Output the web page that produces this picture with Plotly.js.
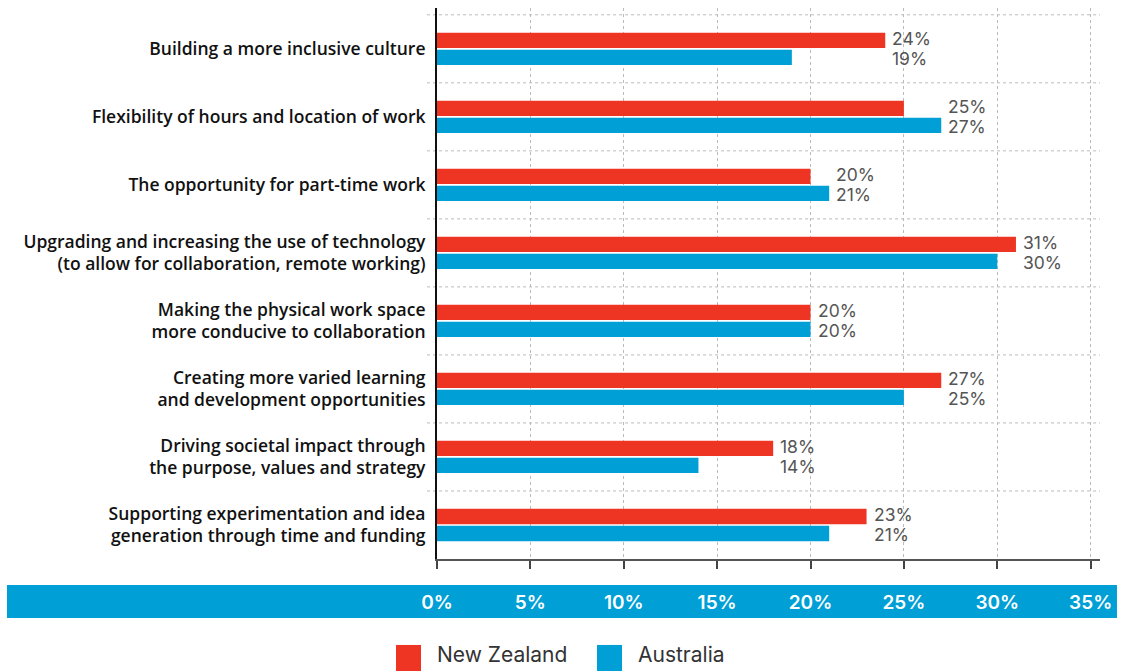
<!DOCTYPE html>
<html>
<head>
<meta charset="utf-8">
<script src="https://cdn.plot.ly/plotly-3.0.1.min.js"></script>
<style>html,body{margin:0;padding:0;background:#fff;}#chart{width:1124px;height:671px;}</style>
</head>
<body>
<div id="chart"></div>
<script>
const categories = [
  "Building a more inclusive culture",
  "Flexibility of hours and location of work",
  "The opportunity for part-time work",
  "Upgrading and increasing the use of technology<br>(to allow for collaboration, remote working)",
  "Making the physical work space<br>more conducive to collaboration",
  "Creating more varied learning<br>and development opportunities",
  "Driving societal impact through<br>the purpose, values and strategy",
  "Supporting experimentation and idea<br>generation through time and funding"
];
const newZealand = [24, 25, 20, 31, 20, 27, 18, 23];
const australia  = [19, 27, 21, 30, 20, 25, 14, 21];
const tickValues = [0, 5, 10, 15, 20, 25, 30, 35];
const tickLabels = ["0%", "5%", "10%", "15%", "20%", "25%", "30%", "35%"];
const seriesNames = ["New Zealand", "Australia"];
const RED = "#EE3524", BLUE = "#009FD6";
const FONT = "Inter, 'Noto Sans', sans-serif";
const LABEL_FONT = "'Open Sans', Inter, sans-serif";

const traces = [
  {type: "bar", orientation: "h", name: seriesNames[0], y: categories, x: newZealand,
   marker: {color: RED}, hoverinfo: "x+y"},
  {type: "bar", orientation: "h", name: seriesNames[1], y: categories, x: australia,
   marker: {color: BLUE}, hoverinfo: "x+y"}
];

const annotations = [];
categories.forEach((c, i) => {
  const xm = Math.max(newZealand[i], australia[i]);
  annotations.push({x: xm, y: c, xref: "x", yref: "y", text: newZealand[i] + "%", showarrow: false,
    xanchor: "left", yanchor: "middle", xshift: 5, yshift: 10, font: {family: FONT, size: 17.5, color: "#555"}});
  annotations.push({x: xm, y: c, xref: "x", yref: "y", text: australia[i] + "%", showarrow: false,
    xanchor: "left", yanchor: "middle", xshift: 5, yshift: -10, font: {family: FONT, size: 17.5, color: "#555"}});
});
// legend labels
annotations.push({x: -0.003, y: -0.1742, xref: "paper", yref: "paper", text: seriesNames[0], showarrow: false,
  xanchor: "left", yanchor: "middle", font: {family: FONT, size: 21, color: "#333"}});
annotations.push({x: 0.3002, y: -0.1742, xref: "paper", yref: "paper", text: seriesNames[1], showarrow: false,
  xanchor: "left", yanchor: "middle", font: {family: FONT, size: 21, color: "#333"}});

const shapes = [];
// blue band behind x tick labels
shapes.push({type: "rect", xref: "paper", yref: "paper", x0: -0.6486, x1: 1.0256, y0: -0.0472, y1: -0.107,
  fillcolor: BLUE, line: {width: 0}, layer: "below"});
// horizontal dotted grid lines at category boundaries
for (let k = 0; k < categories.length; k++) {
  shapes.push({type: "line", xref: "paper", yref: "y", x0: -0.015, x1: 1, y0: k - 0.5, y1: k - 0.5,
    line: {color: "#bbb", width: 1, dash: "dot"}, layer: "below"});
}
// legend squares
shapes.push({type: "rect", xref: "paper", yref: "paper", x0: -0.0618, x1: -0.0241, y0: -0.156, y1: -0.207,
  fillcolor: RED, line: {width: 0}});
shapes.push({type: "rect", xref: "paper", yref: "paper", x0: 0.2413, x1: 0.279, y0: -0.156, y1: -0.207,
  fillcolor: BLUE, line: {width: 0}});

const layout = {
  width: 1124, height: 671,
  margin: {l: 437, r: 24, t: 8, b: 112},
  paper_bgcolor: "#fff", plot_bgcolor: "#fff",
  showlegend: false,
  barmode: "group", bargap: 0.5, bargroupgap: 0.1,
  font: {family: FONT},
  xaxis: {range: [0, 35.5], tickvals: tickValues, ticktext: tickLabels,
    showgrid: true, gridcolor: "#bbb", griddash: "dot", gridwidth: 1,
    showline: true, linecolor: "#555", linewidth: 2, zeroline: false,
    ticks: "outside", ticklen: 8, tickcolor: "#444", tickwidth: 2,
    ticklabelstandoff: 17,
    tickfont: {family: FONT, size: 19, color: "#fff", weight: 600}},
  yaxis: {type: "category", range: [7.5, -0.6], showgrid: false, zeroline: false,
    showline: true, linecolor: "#111", linewidth: 2, ticks: "",
    ticklabelstandoff: 6,
    tickfont: {family: LABEL_FONT, size: 17.5, color: "#111", weight: 600}},
  annotations: annotations,
  shapes: shapes
};

Plotly.newPlot("chart", traces, layout, {displayModeBar: false, staticPlot: true});
</script>
</body>
</html>
